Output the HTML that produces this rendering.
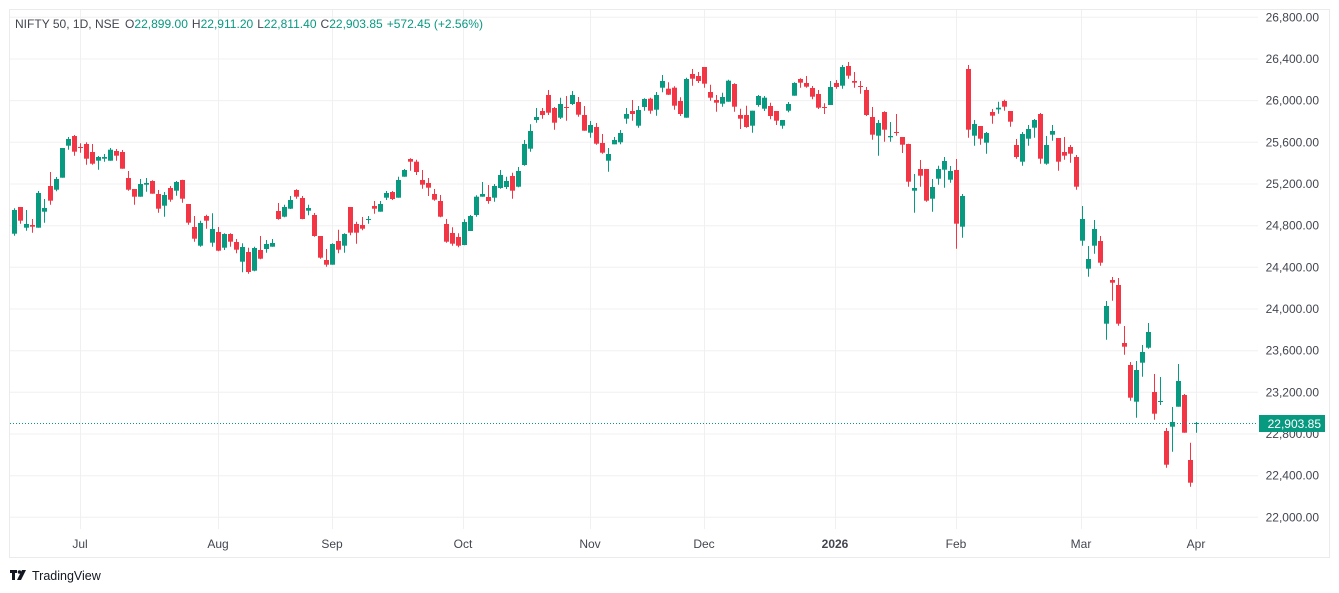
<!DOCTYPE html>
<html><head><meta charset="utf-8"><style>
body{margin:0;background:#fff;width:1339px;height:593px;overflow:hidden;font-family:"Liberation Sans",sans-serif}
svg{position:absolute;left:0;top:0}
</style></head><body>
<svg id="s" width="1339" height="593" xmlns="http://www.w3.org/2000/svg" font-family="Liberation Sans, sans-serif">
<rect x="9.5" y="9.5" width="1320" height="548" fill="#fff" stroke="#ebebeb"/>
<g id="grid" stroke="#f0f0f0" stroke-width="1"></g>
<g id="c"></g>
<line x1="10" y1="423.5" x2="1258" y2="423.5" stroke="#089981" stroke-dasharray="1,2"/>
<g id="ax" font-size="12" fill="#434651"></g>
<rect x="1259" y="415" width="66" height="17" fill="#089981"/>
<text x="1321" y="428" font-size="12" fill="#fff" text-anchor="end">22,903.85</text>
<text x="15" y="28" font-size="12" fill="#434651" textLength="468" lengthAdjust="spacingAndGlyphs">NIFTY 50, 1D, NSE <tspan dx="2">O</tspan><tspan fill="#089981">22,899.00</tspan><tspan dx="4">H</tspan><tspan fill="#089981">22,911.20</tspan><tspan dx="4">L</tspan><tspan fill="#089981">22,811.40</tspan><tspan dx="4">C</tspan><tspan fill="#089981">22,903.85</tspan><tspan dx="4" fill="#089981">+572.45 (+2.56%)</tspan></text>
<g fill="#131722"><rect x="10" y="570" width="7" height="3"/><rect x="12" y="570" width="3" height="10"/><circle cx="19.5" cy="572" r="1.8"/><path d="M22 570h4l-5 10h-4z"/></g>
<text x="32" y="580" font-size="12.5" fill="#131722">TradingView</text>
</svg>
<script>
const NS="http://www.w3.org/2000/svg";
function el(p,t,a,txt){const e=document.createElementNS(NS,t);for(const k in a)e.setAttribute(k,a[k]);if(txt)e.textContent=txt;p.appendChild(e);return e;}
const grid=document.getElementById('grid'),ax=document.getElementById('ax'),cg=document.getElementById('c');
const prices=["26,800.00","26,400.00","26,000.00","25,600.00","25,200.00","24,800.00","24,400.00","24,000.00","23,600.00","23,200.00","22,800.00","22,400.00","22,000.00"];
prices.forEach((p,k)=>{const y=17.3+41.67*k;el(grid,'line',{x1:10,x2:1258,y1:y.toFixed(1),y2:y.toFixed(1)});el(ax,'text',{x:1319,y:(y+4).toFixed(1),'text-anchor':'end'},p);});
const months=[["Jul",80],["Aug",218],["Sep",332],["Oct",463],["Nov",590],["Dec",704],["2026",835],["Feb",956],["Mar",1081],["Apr",1196]];
months.forEach(([m,x])=>{el(grid,'line',{x1:x+.5,x2:x+.5,y1:10,y2:529});const t=el(ax,'text',{x:x,y:548,'text-anchor':'middle'},m);if(m=="2026")t.setAttribute('font-weight','bold');});
const Z=[
[8,120,0,[[265,270,341,347,'G'],[261,261,302,311,'R'],[270,312,323,332,'G'],[297,315,320,338,'R'],[213,219,323,323,'G'],[237,264,275,308,'G'],[156,198,242,254,'R'],[171,177,209,214,'G'],[84,84,173,173,'G'],[51,57,77,89,'G'],[45,48,95,107,'R'],[70,81,83,98,'R'],[67,72,116,134,'R'],[72,96,131,134,'R'],[108,111,122,149,'G'],[102,111,116,125,'G'],[84,89,122,122,'G'],[87,93,107,122,'R'],[90,96,146,146,'R'],[153,174,209,212,'R'],[207,207,230,254,'R'],[177,192,230,230,'G'],[174,189,194,215,'G'],[181,183,221,221,'R'],[210,222,266,278,'R'],[216,225,257,290,'G'],[198,204,239,245,'R'],[183,186,212,227,'G'],[179,180,236,248,'R'],[252,252,308,314,'R'],[288,321,356,365,'R'],[302,309,377,380,'G'],[284,288,302,326,'R'],[280,327,368,380,'G']]],
[210,140,34,[[261,276,332,334,'R'],[280,282,323,330,'G'],[280,282,305,320,'R'],[297,306,329,340,'R'],[310,321,365,397,'G'],[323,336,396,401,'R'],[320,324,392,394,'G'],[288,330,356,358,'R'],[300,312,327,338,'G'],[297,309,320,320,'G'],[189,213,237,239,'R'],[194,201,230,232,'G'],[168,180,206,207,'G'],[148,150,170,176,'R'],[168,174,237,238,'R'],[194,204,212,226,'G'],[219,225,288,290,'R'],[288,288,353,356,'R'],[327,360,374,380,'R'],[310,312,374,374,'G'],[269,303,329,340,'R'],[280,282,317,338,'G'],[201,201,278,286,'R'],[245,252,278,311,'R'],[231,255,266,271,'R'],[228,237,239,251,'G'],[183,198,206,221,'R'],[183,192,215,215,'G'],[153,159,173,180,'G'],[153,156,177,180,'R'],[110,120,173,173,'G'],[87,90,110,110,'G']]],
[410,60,66,[[295,297,305,332,'R'],[299,305,336,345,'R'],[330,360,374,386,'R'],[354,369,383,408,'R'],[387,402,419,422,'R'],[405,423,470,472,'R'],[477,492,545,548,'R'],[502,519,551,557,'R'],[520,531,557,562,'R'],[478,486,555,556,'G'],[465,468,513,513,'G'],[406,410,465,470,'G'],[366,402,410,410,'G'],[375,411,423,431,'R'],[372,378,413,425,'G'],[330,345,384,386,'G'],[350,363,381,387,'G'],[338,348,392,416,'R'],[321,333,380,382,'G'],[240,252,315,317,'G'],[193,213,266,275,'G'],[144,171,180,188,'G'],[144,153,165,176,'R'],[90,105,158,165,'R'],[141,144,188,209,'R'],[113,132,173,177,'G'],[108,141,143,182,'R'],[93,105,132,135,'G'],[111,126,164,170,'R'],[138,165,212,212,'R'],[183,195,218,233,'G'],[189,201,251,254,'R'],[222,249,278,281,'R'],[264,282,302,335,'G']]],
[610,55,100,[[246,255,268,268,'G'],[225,234,262,268,'G'],[159,177,191,206,'G'],[135,168,177,197,'R'],[153,165,212,218,'G'],[130,132,156,167,'G'],[128,131,167,176,'R'],[111,120,164,182,'G'],[60,78,98,112,'G'],[82,101,119,120,'R'],[94,98,152,164,'R'],[127,138,177,183,'R'],[68,72,188,188,'G'],[42,57,71,92,'R'],[51,63,78,84,'R'],[36,36,86,98,'R'],[89,111,128,137,'R'],[120,135,143,170,'R'],[113,126,146,155,'G'],[74,77,140,140,'G'],[85,87,155,170,'R'],[161,180,191,222,'R'],[152,180,216,218,'R'],[167,167,212,233,'G'],[120,123,150,155,'G'],[123,128,161,168,'G'],[143,153,183,193,'R'],[168,168,197,210,'R'],[195,195,212,221,'G'],[141,147,167,172,'G'],[82,84,122,122,'G'],[70,72,83,98,'R'],[63,84,95,98,'R']]],
[810,55,133,[[93,99,125,133,'R'],[105,117,158,162,'R'],[145,156,158,177,'R'],[78,96,150,150,'G'],[75,84,96,101,'R'],[30,36,92,101,'G'],[21,33,62,71,'R'],[51,78,83,98,'R'],[78,93,95,116,'R'],[96,105,180,183,'R'],[156,186,239,254,'R'],[195,204,242,302,'G'],[169,171,224,260,'R'],[201,243,247,260,'G'],[177,231,233,242,'R'],[246,246,269,294,'R'],[266,267,380,395,'R'],[357,399,407,473,'G'],[315,342,362,395,'R'],[342,342,437,440,'R'],[372,396,431,470,'G'],[332,342,371,389,'G'],[306,318,344,398,'G'],[333,348,374,383,'G'],[312,345,506,581,'R'],[417,423,515,548,'G'],[30,42,224,248,'R'],[195,207,242,272,'G'],[213,213,251,269,'R'],[231,234,263,296,'G'],[162,171,182,206,'R'],[140,158,163,176,'G'],[134,138,155,167,'R'],[168,168,200,215,'R']]],
[1010,100,167,[[117,135,171,176,'R'],[96,102,185,197,'G'],[75,87,116,137,'G'],[57,60,83,113,'G'],[39,42,176,191,'R'],[108,135,191,194,'G'],[75,93,104,122,'G'],[114,114,185,212,'R'],[111,156,167,179,'R'],[135,141,161,188,'R'],[165,171,260,269,'R'],[318,357,422,437,'G'],[438,477,506,530,'G'],[360,387,437,461,'G'],[408,423,488,497,'R'],[603,618,671,719,'G'],[531,540,548,602,'R'],[534,555,671,677,'R'],[678,729,740,764,'R'],[786,795,893,902,'R'],[783,810,905,953,'G'],[735,756,788,830,'G'],[669,696,743,746,'G'],[822,876,941,959,'R'],[831,903,905,915,'G'],[984,993,1094,1103,'R'],[921,966,980,1055,'G'],[792,843,920,920,'G'],[882,885,998,998,'R'],[1028,1080,1148,1160,'R'],[966,969,971,998,'G']]]
];
Z.forEach(([xo,yo,start,arr])=>{arr.forEach((d,j)=>{const i=start+j;const x=14.5+6*i;const f=v=>yo+v/3;const col=d[4]=='G'?'#089981':'#F23645';
el(cg,'line',{x1:x,x2:x,y1:f(d[0]).toFixed(1),y2:f(d[3]).toFixed(1),stroke:col,'stroke-width':1});
const h=Math.max(1,f(d[2])-f(d[1]));el(cg,'rect',{x:x-2.5,y:f(d[1]).toFixed(1),width:5,height:h.toFixed(1),fill:col});});});
</script>
</body></html>
